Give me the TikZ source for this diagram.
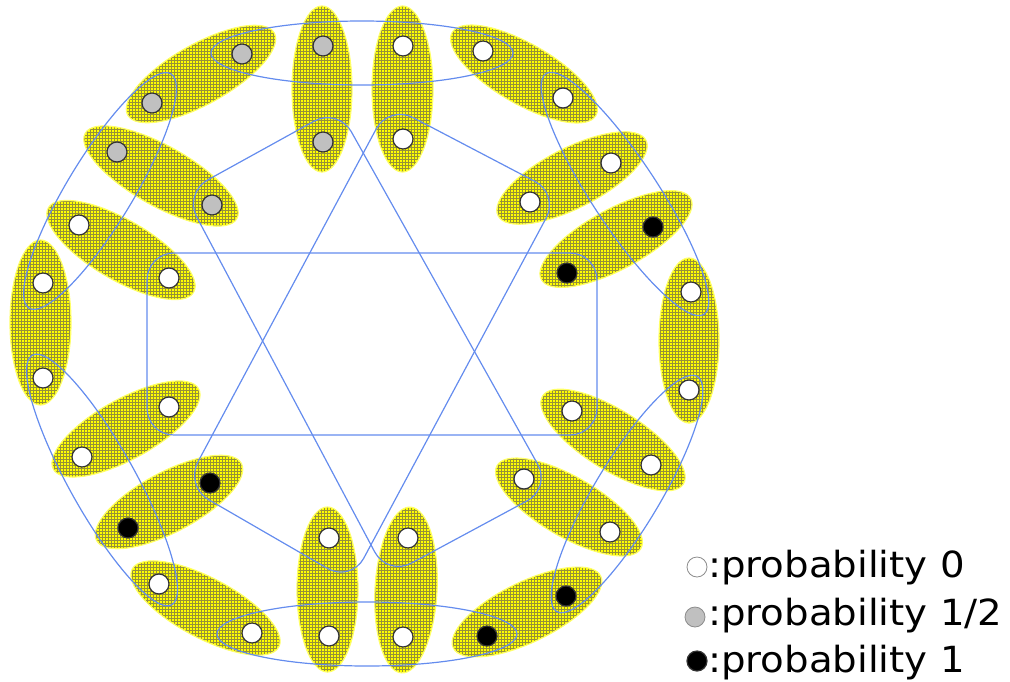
\documentclass[tikz,border=0pt]{standalone}
\usepackage{fontspec}
\newfontfamily\legendFont[FakeStretch=1.075]{DejaVu Sans}
\usetikzlibrary{patterns}
\definecolor{pairYellow}{RGB}{255,255,0}
\definecolor{pairGridCol}{RGB}{150,145,55}
\definecolor{edgeBlue}{RGB}{100,140,238}
\definecolor{halfGray}{RGB}{192,192,192}
\pgfdeclarepatternformonly{pairGridPat}{\pgfqpoint{-1pt}{-1pt}}{\pgfqpoint{4pt}{4pt}}{\pgfqpoint{3pt}{3pt}}{%
  \pgfsetlinewidth{0.6pt}%
  \pgfpathmoveto{\pgfqpoint{0pt}{0pt}}\pgfpathlineto{\pgfqpoint{0pt}{3.1pt}}%
  \pgfpathmoveto{\pgfqpoint{0pt}{0pt}}\pgfpathlineto{\pgfqpoint{3.1pt}{0pt}}%
  \pgfusepath{stroke}}

\begin{document}
\begin{tikzpicture}[x=1pt, y=-1pt,
    hgPair/.style={fill=pairYellow, postaction={pattern=pairGridPat, pattern color=pairGridCol},
      postaction={draw=pairYellow!60!white, line width=1.2pt}},
    hgEdge/.style={draw=edgeBlue, line width=1.2pt},
    hgDot/.style={draw=black!80, circle, line width=1.2pt, inner sep=0pt, minimum size=20pt},
    hgKey/.style={anchor=base west, inner sep=0pt, font=\legendFont\fontsize{36}{43}\selectfont}]

    \useasboundingbox (0,0) rectangle (1010,681);

    % yellow pairs
    \foreach \cx/\cy/\ang/\ra/\rb in {201/74/29.3/84/30, 161/176/-29.4/87/30, 121/250/-30.2/84/30,
        40.5/322.5/90/82.5/30.5, 126/429/29/83/30, 169/502/28/82/30, 205.5/608/-28/83/30,
        327.5/589.5/90/82.5/30.5, 406/590/87/83/31, 527/612/26/82/30, 569/507/-30/83/30,
        613/440/-32/83/30, 689/340.5/90/82.5/30, 616/239/28.5/85/30, 572/178/27/83/30,
        524/74/-30/83/30, 322/89/90/83/30, 402.5/89/90/83/30.5}
        \fill[hgPair, rotate around={\ang:(\cx,\cy)}] (\cx,\cy) ellipse [x radius=\ra, y radius=\rb];

    % outer ring of edges
    \draw[hgEdge] (362,53) ellipse [x radius=151, y radius=32];
    \draw[hgEdge] (367,634) ellipse [x radius=150, y radius=32];
    \draw[hgEdge, rotate around={58.8:(100,191)}] (100,191) ellipse [x radius=137, y radius=33];
    \draw[hgEdge, rotate around={-56.7:(625,194)}] (625,194) ellipse [x radius=144, y radius=33];
    \draw[hgEdge, rotate around={-60.8:(102,480)}] (102,480) ellipse [x radius=143, y radius=33];
    \draw[hgEdge, rotate around={59.1:(627,494)}] (627,494) ellipse [x radius=137, y radius=33];

    % inner edges
    \draw[hgEdge, rounded corners=27pt] (147,253) rectangle (597,435);
    \draw[hgEdge, rounded corners=27pt] (389,105) -- (559,194) -- (351,582) -- (185,486) -- cycle;
    \draw[hgEdge, rounded corners=27pt] (184,193) -- (338,108) -- (551,488) -- (387.5,576) -- cycle;

    % vertices
    \foreach \name/\px/\py/\shade in {o1/242/54/halfGray, o2/323/46/halfGray, o3/403/46/white,
        o4/483/51/white, o5/152/103/halfGray, o6/117/152/halfGray, o7/79/225/white,
        o8/43/283/white, o9/43/378/white, o10/82/457/white, o11/128/528/black,
        o12/159/584/white, o13/252/633/white, o14/329/636/white, o15/403/637/white,
        o16/487/636/black, o17/566/596/black, o18/610/532/white, o19/651/465/white,
        o20/689/390/white, o21/691/292/white, o22/653/227/black, o23/611/163/white,
        o24/563/98/white, i1/323/142/halfGray, i2/403/139/white, i3/212/205/halfGray,
        i4/169/278/white, i5/169/407/white, i6/210/483/black, i7/329/538/white,
        i8/408/538/white, i9/524/479/white, i10/572/411/white, i11/567/273/black,
        i12/530/202/white}
        \node[hgDot, fill=\shade] (\name) at (\px,\py) {};

    % legend
    \node[hgDot, fill=white, draw=black!45, line width=0.8pt] (keyZero) at (697,567) {};
    \node[hgDot, fill=halfGray, draw=black!45, line width=0.8pt] (keyHalf) at (695,617) {};
    \node[hgDot, fill=black] (keyOne) at (697,661) {};
    \node[hgKey] (txtZero) at (708,577) {:probability 0};
    \node[hgKey] (txtHalf) at (708,625) {:probability 1/2};
    \node[hgKey] (txtOne) at (708,672) {:probability 1};
\end{tikzpicture}
\end{document}
